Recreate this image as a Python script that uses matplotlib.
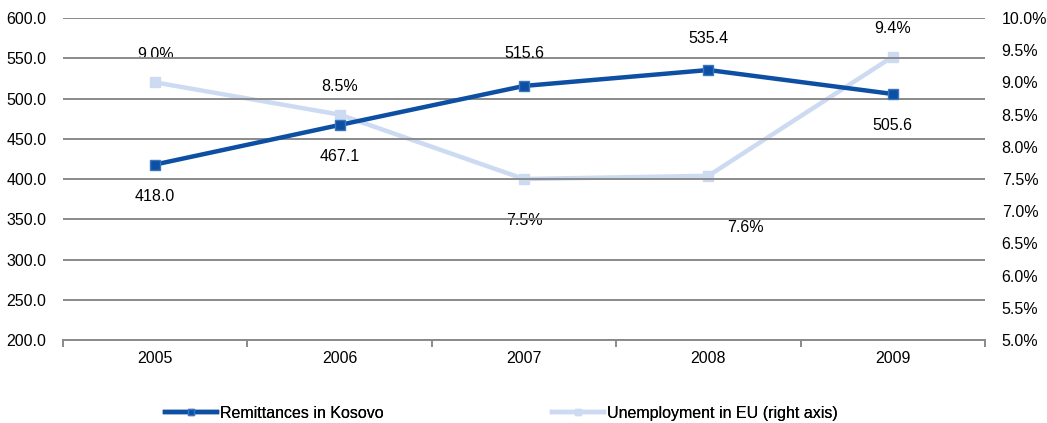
import matplotlib.pyplot as plt
import matplotlib.ticker as mticker
from matplotlib.lines import Line2D

years = ["2005", "2006", "2007", "2008", "2009"]
remittances = [418.0, 467.1, 515.6, 535.4, 505.6]
unemployment = [9.0, 8.5, 7.5, 7.55, 9.4]
unemp_labels = ["9.0%", "8.5%", "7.5%", "7.6%", "9.4%"]
remit_label_above = [False, False, True, True, False]
unemp_label_above = [True, True, False, False, True]

plt.rcParams['font.family'] = ['Liberation Sans', 'DejaVu Sans']
plt.rcParams['font.size'] = 11.5

dark = "#0D4FA3"
dark_edge = "#3A76C0"
light = "#CCDAF2"
grid_c = "#8A8A8A"

fig = plt.figure(figsize=(10.47, 4.23), dpi=100)
ax = fig.add_axes([63 / 1047, 1 - 340 / 423, 922 / 1047, 322 / 423])
ax2 = ax.twinx()

x = list(range(len(years)))

ax.set_xlim(-0.5, len(years) - 0.5)
ax.set_ylim(200, 600)
ax.set_yticks([200 + 50 * i for i in range(9)])
ax.yaxis.set_major_formatter(mticker.FormatStrFormatter('%.1f'))
ax.set_xticks(x)
ax.set_xticklabels(years)
ax.set_xticks([i - 0.5 for i in range(len(years) + 1)], minor=True)
ax.tick_params(axis='x', which='major', length=0, pad=8)
ax.tick_params(axis='x', which='minor', length=5, color=grid_c, width=1.4, direction='out')
ax.tick_params(axis='y', length=0, pad=12)
ax.grid(axis='y', color=grid_c, linewidth=1.4)
ax.set_axisbelow(True)
for s in ['top', 'left', 'right']:
    ax.spines[s].set_visible(False)
ax.spines['bottom'].set_color(grid_c)
ax.spines['bottom'].set_linewidth(1.4)

ax2.set_ylim(5.0, 10.0)
ax2.set_yticks([5.0 + 0.5 * i for i in range(11)])
ax2.yaxis.set_major_formatter(mticker.FormatStrFormatter('%.1f%%'))
ax2.tick_params(axis='y', length=0, pad=12)
for s in ax2.spines.values():
    s.set_visible(False)

ax2.plot(x, unemployment, color=light, linewidth=3.2, marker='s', markersize=7,
         markerfacecolor=light, markeredgecolor=light, zorder=2)
# remittances drawn on the left-axis scale, placed on top of the right-axis series
ax2.set_zorder(1)
ax.set_zorder(2)
ax.patch.set_visible(False)
ax.plot(x, remittances, color=dark, linewidth=3.2, marker='s', markersize=6.5,
        markerfacecolor=dark, markeredgecolor=dark_edge, zorder=3)

for xi, v, up in zip(x, remittances, remit_label_above):
    ax.annotate(f"{v:.1f}", (xi, v), xytext=(0, 23 if up else -23), textcoords='offset points',
                ha='center', va='center')
unemp_dx = [0, 0, 0, 27, 0]
unemp_dy = [20, 20, -30, -37, 20]
for xi, v, lab, dx, dy in zip(x, unemployment, unemp_labels, unemp_dx, unemp_dy):
    ax2.annotate(lab, (xi, v), xytext=(dx, dy), textcoords='offset points',
                 ha='center', va='center')

h1 = Line2D([], [], color=dark, linewidth=3.2, marker='s', markersize=5,
            markerfacecolor=dark, markeredgecolor=dark_edge)
h2 = Line2D([], [], color=light, linewidth=3.2, marker='s', markersize=5,
            markerfacecolor=light, markeredgecolor=light)
leg_y = 1 - 413 / 423
for h, lab, x0 in [(h1, "Remittances in Kosovo", 165), (h2, "Unemployment in EU (right axis)", 552)]:
    lg = fig.legend([h], [lab], loc='center left', bbox_to_anchor=(x0 / 1047, leg_y),
                    frameon=False, borderpad=0, borderaxespad=0,
                    handlelength=3.25, handletextpad=0.2)
    fig.add_artist(lg)

fig.savefig("out.png", dpi=100)
